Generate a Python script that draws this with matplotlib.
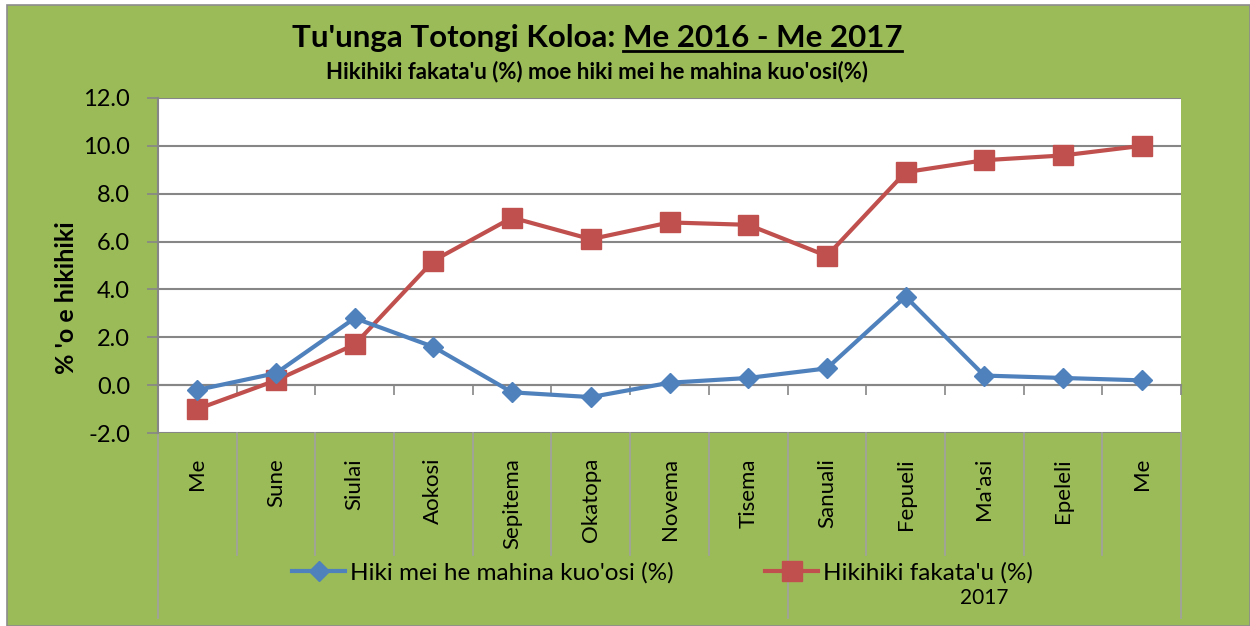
import matplotlib
matplotlib.use('Agg')
import matplotlib.pyplot as plt
import matplotlib.transforms as mtransforms
from matplotlib.patches import Rectangle
from matplotlib.lines import Line2D

# ---------------- data ----------------
categories = ["Me", "Sune", "Siulai", "Aokosi", "Sepitema", "Okatopa", "Novema",
              "Tisema", "Sanuali", "Fepueli", "Ma'asi", "Epeleli", "Me"]
monthly_change = [-0.2, 0.5, 2.8, 1.6, -0.3, -0.5, 0.1, 0.3, 0.7, 3.7, 0.4, 0.3, 0.2]
annual_change = [-1.0, 0.2, 1.7, 5.2, 7.0, 6.1, 6.8, 6.7, 5.4, 8.9, 9.4, 9.6, 10.0]
y_ticks = [-2.0, 0.0, 2.0, 4.0, 6.0, 8.0, 10.0, 12.0]
group_labels = ["", "2017"]
group_sizes = [8, 5]
series_names = ["Hiki mei he mahina kuo'osi (%)", "Hikihiki fakata'u (%)"]
title_prefix = "Tu'unga Totongi Koloa:"
title_underlined = "Me 2016 - Me 2017"
subtitle = "Hikihiki fakata'u (%) moe hiki mei he mahina kuo'osi(%)"
y_label = "% 'o e hikihiki"

# ---------------- style ----------------
GREEN = '#9BBB59'
BLUE = '#4F81BD'
RED = '#C0504D'
GRID = '#868686'
SEP = '#A0A0A0'
plt.rcParams['font.family'] = ['Lato', 'DejaVu Sans']

W, H = 1250, 626
fig = plt.figure(figsize=(W / 100, H / 100), dpi=100)
fig.patch.set_facecolor('white')
bg = Rectangle((7 / W, 0), (W - 7) / W, (H - 5) / H, transform=fig.transFigure,
               facecolor=GREEN, edgecolor='#8C8C8C', lw=1.2, zorder=-10)
fig.add_artist(bg)

ax = fig.add_axes([158 / W, (H - 433) / H, (1181 - 158) / W, (433 - 98) / H])
ax.set_zorder(1)
ax.set_facecolor('white')
n = len(categories)
x = list(range(n))

ax.plot(x, monthly_change, color=BLUE, lw=3, marker='D', ms=10, mec=BLUE, mfc=BLUE,
        label=series_names[0], zorder=4, clip_on=False)
ax.plot(x, annual_change, color=RED, lw=3, marker='s', ms=14, mec=RED, mfc=RED,
        label=series_names[1], zorder=3, clip_on=False)

ax.set_xlim(-0.5, n - 0.5)
ax.set_ylim(y_ticks[0], y_ticks[-1])
ax.set_yticks(y_ticks)
ax.set_yticklabels([f"{v:.1f}" for v in y_ticks], fontsize=17)
ax.yaxis.grid(True, color=GRID, lw=1.5)
ax.set_axisbelow(True)
ax.tick_params(axis='y', direction='out', length=8, width=1.2, color=GRID, pad=12)

for s in ['top', 'right']:
    ax.spines[s].set_visible(False)
ax.spines['left'].set_color(GRID)
ax.spines['left'].set_linewidth(1.5)
ax.spines['bottom'].set_position(('data', 0))
ax.spines['bottom'].set_color(GRID)
ax.spines['bottom'].set_linewidth(1.5)
bounds = [i - 0.5 for i in range(n + 1)]
ax.set_xticks(bounds)
ax.set_xticklabels([])
ax.tick_params(axis='x', direction='out', length=7, width=1.2, color=GRID)

# category labels & separators below the plot
trans = mtransforms.blended_transform_factory(ax.transData, ax.transAxes)
ah = 433 - 98
for i, name in enumerate(categories):
    ax.text(i, (433 - 458) / ah, name, transform=trans, rotation=90, ha='center', va='top',
            fontsize=16, clip_on=False)
group_edges = [-0.5]
for g in group_sizes:
    group_edges.append(group_edges[-1] + g)
for b in bounds:
    bottom = (433 - 618) / ah if b in group_edges else (433 - 555) / ah
    ax.add_line(Line2D([b, b], [0.0, bottom], transform=trans, color=SEP, lw=1.2, clip_on=False))
for lbl, g0, g in zip(group_labels, group_edges[:-1], group_sizes):
    ax.text(g0 + g / 2, (433 - 598) / ah, lbl, transform=trans, ha='center', va='center',
            fontsize=15, clip_on=False)

# legends
h_blue = Line2D([], [], color=BLUE, lw=3, marker='D', ms=10)
h_red = Line2D([], [], color=RED, lw=3, marker='s', ms=14)
leg1 = fig.legend([h_blue], [series_names[0]], loc='center left', bbox_to_anchor=(292 / W, 1 - 573 / H),
                  frameon=False, fontsize=17.5, borderpad=0, handlelength=2.2, handletextpad=0.2,
                  borderaxespad=0)
leg2 = fig.legend([h_red], [series_names[1]], loc='center left', bbox_to_anchor=(765 / W, 1 - 573 / H),
                  frameon=False, fontsize=17.5, borderpad=0, handlelength=2.2, handletextpad=0.2,
                  borderaxespad=0)
leg1.set_zorder(5)
leg2.set_zorder(5)

# y label
fig.text(67 / W, 1 - 298 / H, y_label, rotation=90, ha='center', va='center', fontsize=18,
         fontweight='bold')

# title with underlined part
renderer = fig.canvas.get_renderer()
tsize = 22.5
t1 = fig.text(0, 1 - 47 / H, title_prefix, fontsize=tsize, fontweight='bold', ha='left', va='baseline')
t2 = fig.text(0, 1 - 47 / H, title_underlined, fontsize=tsize, fontweight='bold', ha='left', va='baseline')
w1 = t1.get_window_extent(renderer).width
w2 = t2.get_window_extent(renderer).width
gap = tsize * 100 / 72 * 0.25
total = w1 + gap + w2
start = 597 - total / 2
t1.set_x(start / W)
t2.set_x((start + w1 + gap) / W)
uy = 1 - 51 / H
fig.add_artist(Line2D([(start + w1 + gap) / W, (start + total) / W], [uy, uy],
                      transform=fig.transFigure, color='black', lw=2))

fig.text(597 / W, 1 - 78 / H, subtitle, fontsize=16, fontweight='bold', ha='center', va='baseline')

fig.savefig('out.png', dpi=100, facecolor=fig.get_facecolor())
